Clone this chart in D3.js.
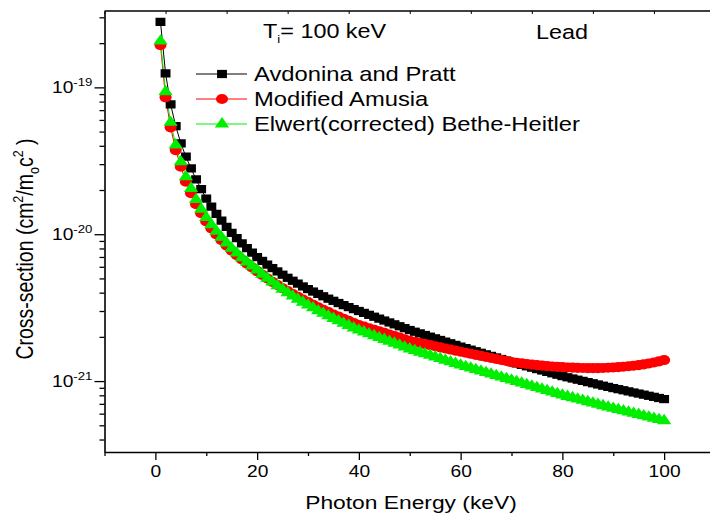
<!DOCTYPE html>
<html>
<head>
<meta charset="utf-8">
<script src="https://cdn.jsdelivr.net/npm/d3@7"></script>
<style>
  html, body { margin: 0; padding: 0; background: #fff; }
  svg { display: block; }
  text { font-family: "Liberation Sans", Arial, Helvetica, sans-serif; fill: #000; }
</style>
</head>
<body>
<div id="chart"></div>
<script>
// photon energy grid (keV)
var energy = [
  1, 2, 3, 4, 5, 6, 7, 8, 9, 10, 11, 12, 13, 14, 15, 16, 17, 18, 19, 20,
  21, 22, 23, 24, 25, 26, 27, 28, 29, 30, 31, 32, 33, 34, 35, 36, 37, 38, 39, 40,
  41, 42, 43, 44, 45, 46, 47, 48, 49, 50, 51, 52, 53, 54, 55, 56, 57, 58, 59, 60,
  61, 62, 63, 64, 65, 66, 67, 68, 69, 70, 71, 72, 73, 74, 75, 76, 77, 78, 79, 80,
  81, 82, 83, 84, 85, 86, 87, 88, 89, 90, 91, 92, 93, 94, 95, 96, 97, 98, 99, 100
];

// cross-sections, in units of 1e-21 cm^2/m_o c^2
var UNIT = 1e-21;
var avdoninaPratt = [
  279.7, 124.5, 76.6, 54.5, 41.6, 33.7, 28.1, 23.6, 20.3, 17.5,
  15.43, 13.74, 12.37, 11.21, 10.23, 9.39, 8.67, 8.04, 7.48, 6.99,
  6.58, 6.21, 5.88, 5.58, 5.30, 5.05, 4.82, 4.61, 4.41, 4.23,
  4.07, 3.92, 3.78, 3.64, 3.52, 3.40, 3.29, 3.19, 3.09, 3.00,
  2.912, 2.826, 2.743, 2.662, 2.584, 2.508, 2.434, 2.363, 2.293, 2.226,
  2.168, 2.113, 2.059, 2.006, 1.955, 1.905, 1.856, 1.809, 1.762, 1.717,
  1.676, 1.636, 1.596, 1.558, 1.521, 1.484, 1.449, 1.414, 1.380, 1.347,
  1.318, 1.289, 1.261, 1.234, 1.207, 1.181, 1.155, 1.130, 1.105, 1.081,
  1.061, 1.041, 1.022, 1.003, 0.984, 0.966, 0.948, 0.930, 0.913, 0.896,
  0.881, 0.866, 0.851, 0.836, 0.822, 0.808, 0.794, 0.781, 0.767, 0.754
];
var modifiedAmusia = [
  194.1, 85.5, 53.4, 37.4, 28.8, 22.8, 19.0, 16.0, 13.9, 12.2,
  10.96, 9.95, 9.09, 8.37, 7.74, 7.20, 6.73, 6.31, 5.94, 5.61,
  5.29, 5.00, 4.74, 4.51, 4.29, 4.10, 3.91, 3.75, 3.59, 3.45,
  3.31, 3.18, 3.06, 2.95, 2.84, 2.75, 2.65, 2.57, 2.48, 2.41,
  2.348, 2.291, 2.235, 2.181, 2.128, 2.076, 2.026, 1.976, 1.928, 1.881,
  1.849, 1.817, 1.786, 1.756, 1.726, 1.696, 1.667, 1.639, 1.611, 1.583,
  1.558, 1.533, 1.508, 1.484, 1.460, 1.437, 1.414, 1.391, 1.369, 1.347,
  1.332, 1.320, 1.307, 1.295, 1.285, 1.275, 1.265, 1.257, 1.249, 1.244,
  1.238, 1.234, 1.230, 1.228, 1.226, 1.226, 1.226, 1.228, 1.232, 1.238,
  1.244, 1.251, 1.261, 1.273, 1.285, 1.299, 1.318, 1.339, 1.362, 1.390
];
var elwertBH = [
  206.7, 93.3, 57.8, 40.5, 31.1, 24.6, 20.5, 17.2, 14.8, 13.0,
  11.61, 10.47, 9.52, 8.71, 8.02, 7.43, 6.91, 6.46, 6.06, 5.70,
  5.34, 5.01, 4.72, 4.45, 4.21, 3.99, 3.79, 3.61, 3.44, 3.29,
  3.15, 3.01, 2.89, 2.78, 2.67, 2.57, 2.47, 2.39, 2.30, 2.225,
  2.160, 2.097, 2.036, 1.977, 1.919, 1.863, 1.809, 1.756, 1.705, 1.655,
  1.614, 1.573, 1.534, 1.496, 1.458, 1.422, 1.386, 1.352, 1.318, 1.285,
  1.255, 1.226, 1.198, 1.170, 1.143, 1.116, 1.090, 1.065, 1.040, 1.016,
  0.992, 0.969, 0.947, 0.925, 0.903, 0.882, 0.862, 0.842, 0.822, 0.803,
  0.786, 0.770, 0.754, 0.739, 0.723, 0.708, 0.694, 0.679, 0.665, 0.652,
  0.639, 0.627, 0.615, 0.603, 0.592, 0.580, 0.569, 0.558, 0.547, 0.537
];

var seriesNames = ['Avdonina and Pratt', 'Modified Amusia', 'Elwert(corrected) Bethe-Heitler'];
var seriesColors = ['#000000', '#ff0000', '#00ee00'];
var seriesSymbols = [d3.symbolSquare, d3.symbolCircle, d3.symbolTriangle];
var seriesSizes = [68, 80, 62];

var xMajorTicks = [0, 20, 40, 60, 80, 100];
var xMinorTicks = [-10, 10, 30, 50, 70, 90, 110];
var xTopTicks = [-10, 2, 14, 26, 38, 50, 62, 74, 86, 98, 110];
var yMajorTicks = [1e-21, 1e-20, 1e-19];
var yMajorExp = ['-21', '-20', '-19'];

(function () {
  var W = 710, H = 516;
  var left = 104.5, top = 11, bottom = 452;
  var SX = 1.2; // the original figure is stretched horizontally

  var svg = d3.select('#chart').append('svg')
    .attr('width', W).attr('height', H)
    .attr('viewBox', [0, 0, W, H]);

  var x = d3.scaleLinear().domain([-10, 110]).range([left, 715]);
  var y = d3.scaleLog().domain([3.289e-22, 3.311e-19]).range([bottom, top]);

  // y minor ticks: 2..9 in each decade inside the domain
  var yMinorTicks = [];
  [1e-22, 1e-21, 1e-20, 1e-19].forEach(function (dec) {
    for (var m = 2; m <= 9; m++) {
      var v = m * dec;
      if (v >= y.domain()[0] && v <= y.domain()[1]) yMinorTicks.push(v);
    }
  });

  var series = [avdoninaPratt, modifiedAmusia, elwertBH].map(function (vals, i) {
    return {
      name: seriesNames[i],
      color: seriesColors[i],
      symbol: seriesSymbols[i],
      size: seriesSizes[i],
      points: vals.map(function (v, j) { return { e: energy[j], v: v * UNIT }; })
    };
  });

  svg.append('clipPath').attr('id', 'plot-clip')
    .append('rect').attr('x', left).attr('y', top)
    .attr('width', W - left).attr('height', bottom - top);

  var plot = svg.append('g').attr('clip-path', 'url(#plot-clip)');

  var line = d3.line()
    .x(function (d) { return x(d.e); })
    .y(function (d) { return y(d.v); });

  series.forEach(function (s) {
    plot.append('path')
      .datum(s.points)
      .attr('fill', 'none')
      .attr('stroke', s.color)
      .attr('stroke-width', 1)
      .attr('d', line);
  });

  series.forEach(function (s) {
    var sym = d3.symbol().type(s.symbol).size(s.size);
    plot.append('g').selectAll('path')
      .data(s.points)
      .join('path')
      .attr('d', sym)
      .attr('fill', s.color)
      .attr('transform', function (d) {
        return 'translate(' + x(d.e) + ',' + y(d.v) + ') scale(' + SX + ',1)';
      });
  });

  // frame lines
  var axisStroke = 1.6;
  svg.append('line').attr('x1', left).attr('x2', W).attr('y1', top).attr('y2', top)
    .attr('stroke', '#000').attr('stroke-width', axisStroke);

  // bottom axis
  var gx = svg.append('g').attr('transform', 'translate(0,' + bottom + ')');
  gx.call(d3.axisBottom(x).tickValues(xMajorTicks).tickSize(8).tickSizeOuter(0)
    .tickFormat(d3.format('d')));
  gx.select('.domain').attr('stroke-width', axisStroke);
  gx.selectAll('.tick line').attr('stroke-width', 1.3);
  gx.selectAll('.tick text')
    .attr('font-size', 16)
    .attr('font-family', '"Liberation Sans", Arial, sans-serif')
    .attr('y', 14)
    .attr('transform', 'scale(' + SX + ',1)');
  var gxm = svg.append('g').attr('transform', 'translate(0,' + bottom + ')');
  gxm.call(d3.axisBottom(x).tickValues(xMinorTicks).tickSize(4).tickFormat(''));
  gxm.select('.domain').remove();
  gxm.selectAll('.tick line').attr('stroke-width', 1.3);

  // top axis: small inward ticks
  var gt = svg.append('g').attr('transform', 'translate(0,' + top + ')');
  gt.call(d3.axisBottom(x).tickValues(xTopTicks).tickSize(3).tickFormat(''));
  gt.select('.domain').remove();
  gt.selectAll('.tick line').attr('stroke-width', 1);

  // left axis
  var gy = svg.append('g').attr('transform', 'translate(' + left + ',0)');
  gy.call(d3.axisLeft(y).tickValues(yMajorTicks).tickSize(10).tickSizeOuter(0).tickFormat(''));
  gy.select('.domain').attr('stroke-width', axisStroke);
  gy.selectAll('.tick line').attr('stroke-width', 1.3);
  var gym = svg.append('g').attr('transform', 'translate(' + left + ',0)');
  gym.call(d3.axisLeft(y).tickValues(yMinorTicks).tickSize(5).tickFormat(''));
  gym.select('.domain').remove();
  gym.selectAll('.tick line').attr('stroke-width', 1.3);

  // y tick labels 10^n
  yMajorTicks.forEach(function (v, i) {
    var t = svg.append('text')
      .attr('transform', 'translate(52,' + (y(v) + 6) + ') scale(' + SX + ',1)')
      .attr('font-size', 16);
    t.append('tspan').text('10');
    t.append('tspan').attr('font-size', 11).attr('dy', -7).text(yMajorExp[i]);
  });

  // axis titles
  svg.append('text')
    .attr('transform', 'translate(' + 411 + ',509) scale(' + SX + ',1)')
    .attr('text-anchor', 'middle')
    .attr('font-size', 19)
    .text('Photon Energy (keV)');

  var yt = svg.append('text')
    .attr('transform', 'translate(33,249) scale(' + SX + ',1) rotate(-90)')
    .attr('text-anchor', 'middle')
    .attr('font-size', 19.5);
  yt.append('tspan').text('Cross-section (cm');
  yt.append('tspan').attr('font-size', 12.5).attr('dy', -8).text('2');
  yt.append('tspan').attr('dy', 8).text('/m');
  yt.append('tspan').attr('font-size', 12.5).attr('dy', 5).text('o');
  yt.append('tspan').attr('dy', -5).text('c');
  yt.append('tspan').attr('font-size', 12.5).attr('dy', -8).text('2');
  yt.append('tspan').attr('dy', 8).text(' )');

  // annotations
  var ti = svg.append('text')
    .attr('transform', 'translate(263,38) scale(' + SX + ',1)')
    .attr('font-size', 19.5);
  ti.append('tspan').text('T');
  ti.append('tspan').attr('font-size', 11).attr('dy', 5).text('i');
  ti.append('tspan').attr('dy', -5).text('= 100 keV');

  svg.append('text')
    .attr('transform', 'translate(536,39) scale(' + SX + ',1)')
    .attr('font-size', 19.5)
    .text('Lead');

  // legend
  var legendY = [74, 99, 124];
  series.forEach(function (s, i) {
    var g = svg.append('g').attr('transform', 'translate(0,' + legendY[i] + ')');
    g.append('line').attr('x1', 196).attr('x2', 247).attr('y1', 0).attr('y2', 0)
      .attr('stroke', s.color).attr('stroke-width', 1);
    g.append('path')
      .attr('d', d3.symbol().type(s.symbol).size(s.size)())
      .attr('fill', s.color)
      .attr('transform', 'translate(222,0) scale(' + SX + ',1)');
    g.append('text')
      .attr('transform', 'translate(254,7) scale(' + SX + ',1)')
      .attr('font-size', 19.8)
      .text(s.name);
  });
})();
</script>
</body>
</html>
